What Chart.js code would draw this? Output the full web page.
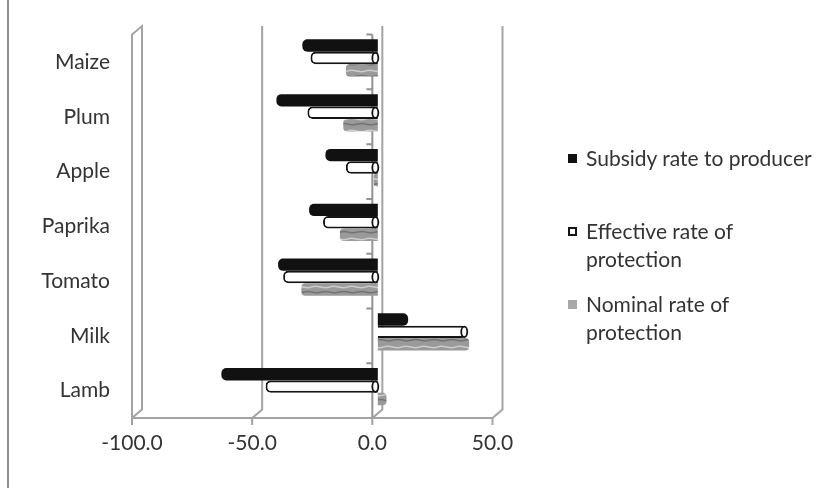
<!DOCTYPE html>
<html>
<head>
<meta charset="utf-8">
<script src="https://cdn.jsdelivr.net/npm/chart.js@4.4.0/dist/chart.umd.min.js"></script>
<style>
  html, body { margin: 0; padding: 0; background: #fff; }
  #wrap { position: relative; width: 833px; height: 488px; }
  .item { position: absolute; left: 568px; width: 262px; font: 21px Lato, sans-serif; color: #333; line-height: 28px; }
  .box { position: absolute; left: 0; top: 9.5px; width: 9px; height: 9px; box-sizing: border-box; }
  .txt { position: absolute; left: 18px; top: 0; width: 240px; }
</style>
</head>
<body>
<div id="wrap">
  <canvas id="chart" width="833" height="488"></canvas>
  <div id="legend"></div>
</div>
<script>
const categories = ['Maize', 'Plum', 'Apple', 'Paprika', 'Tomato', 'Milk', 'Lamb'];
const seriesNames = ['Subsidy rate to producer', 'Effective rate of protection', 'Nominal rate of protection'];
const subsidy = [-31.4, -42.2, -21.8, -28.6, -41.5, 12.6, -65.1];
const effective = [-28.0, -29.3, -13.3, -22.8, -39.4, 37.0, -46.7];
const nominal = [-13.3, -14.4, -1.7, -15.8, -31.8, 38.0, 3.6];
const xTicks = [-100, -50, 0, 50];

const xMin = xTicks[0];
const xMax = xTicks[xTicks.length - 1];

// marbled grey fill for the nominal series
function grayPattern(ctx) {
    const p = document.createElement('canvas');
    p.width = 18; p.height = 12;
    const g = p.getContext('2d');
    g.fillStyle = '#9a9a9a';
    g.fillRect(0, 0, 18, 12);
    g.lineWidth = 1.5;
    g.strokeStyle = '#cdcdcd';
    g.beginPath(); g.moveTo(0, 3); g.bezierCurveTo(6, 0, 12, 6, 18, 3); g.stroke();
    g.strokeStyle = '#737373';
    g.beginPath(); g.moveTo(0, 8); g.bezierCurveTo(6, 11, 11, 6, 18, 8); g.stroke();
    return ctx.createPattern(p, 'repeat');
}

const frame = {
    id: 'frame',
    beforeDraw(chart) {
        const ctx = chart.ctx;
        ctx.save();
        ctx.strokeStyle = '#8f8f8f';
        ctx.lineWidth = 2;
        ctx.beginPath(); ctx.moveTo(8, 0); ctx.lineTo(8, 488); ctx.stroke();
        ctx.restore();
    },
    beforeDatasetsDraw(chart) {
        const { ctx, chartArea: a, scales: { x } } = chart;
        const dx = 10, dy = -8.5;
        ctx.save();
        ctx.strokeStyle = '#a3a3a3';
        ctx.lineWidth = 2;
        const xl = x.getPixelForValue(xMin);
        // left wall
        ctx.beginPath();
        ctx.moveTo(xl, a.bottom); ctx.lineTo(xl, a.top);
        ctx.lineTo(xl + dx, a.top + dy); ctx.lineTo(xl + dx, a.bottom + dy);
        ctx.lineTo(xl, a.bottom);
        ctx.stroke();
        // back gridlines
        xTicks.forEach(v => {
            if (v === xMin) return;
            const px = x.getPixelForValue(v);
            ctx.beginPath();
            ctx.moveTo(px + dx, a.top + dy); ctx.lineTo(px + dx, a.bottom + dy); ctx.lineTo(px, a.bottom);
            ctx.stroke();
        });
        // floor front edge and ticks
        ctx.beginPath();
        ctx.moveTo(xl, a.bottom); ctx.lineTo(x.getPixelForValue(xMax), a.bottom);
        xTicks.forEach(v => {
            const px = x.getPixelForValue(v);
            ctx.moveTo(px, a.bottom); ctx.lineTo(px, a.bottom + 7);
        });
        ctx.stroke();
        // category axis crossing at zero
        const x0 = x.getPixelForValue(0);
        ctx.strokeStyle = '#939393';
        ctx.beginPath();
        ctx.moveTo(x0, a.top); ctx.lineTo(x0, a.bottom);
        for (let i = 0; i < categories.length; i++) {
            const py = a.top + (a.bottom - a.top) * i / categories.length;
            ctx.moveTo(x0 - 6, py); ctx.lineTo(x0, py);
        }
        ctx.stroke();
        ctx.restore();
        // bars sit half way into the depth
        ctx.save();
        ctx.translate(5.5, -4);
    },
    afterDatasetsDraw(chart) {
        const ctx = chart.ctx;
        // cylinder faces on the white bars
        chart.getDatasetMeta(1).data.forEach(bar => {
            const xr = Math.max(bar.x, bar.base);
            ctx.beginPath();
            ctx.ellipse(xr - 2.5, bar.y, 3, bar.height / 2 - 1, 0, 0, 2 * Math.PI);
            ctx.fillStyle = '#fff';
            ctx.fill();
            ctx.strokeStyle = '#111';
            ctx.lineWidth = 1.8;
            ctx.stroke();
        });
        ctx.restore();
    }
};

const ctx = document.getElementById('chart').getContext('2d');

new Chart(ctx, {
    type: 'bar',
    data: {
        labels: categories,
        datasets: [
            { label: seriesNames[0], data: subsidy, backgroundColor: '#111111', borderRadius: 5 },
            { label: seriesNames[1], data: effective, backgroundColor: '#ffffff', borderColor: '#151515', borderWidth: 2, borderRadius: 5 },
            { label: seriesNames[2], data: nominal, backgroundColor: grayPattern(ctx), borderRadius: 4 }
        ]
    },
    options: {
        indexAxis: 'y',
        responsive: false,
        animation: false,
        layout: { padding: { top: 32, right: 340.5, bottom: 0, left: 0 } },
        datasets: { bar: { categoryPercentage: 0.68, barPercentage: 1.0 } },
        scales: {
            x: {
                min: xMin,
                max: xMax,
                afterBuildTicks: s => { s.ticks = xTicks.map(v => ({ value: v })); },
                afterFit: s => { s.height = 70; },
                grid: { display: false, drawTicks: false },
                border: { display: false },
                ticks: {
                    padding: 13,
                    color: '#333',
                    font: { family: 'Lato', size: 21 },
                    callback: v => Number(v).toFixed(1)
                }
            },
            y: {
                afterFit: s => { s.width = 132; },
                grid: { display: false, drawTicks: false },
                border: { display: false },
                ticks: {
                    padding: 22,
                    color: '#333',
                    font: { family: 'Lato', size: 21 }
                }
            }
        },
        plugins: {
            legend: { display: false },
            tooltip: { enabled: false }
        }
    },
    plugins: [frame]
});

// legend
const legend = document.getElementById('legend');
const legendTops = [144, 217, 290];
const boxStyles = [
    'background:#111;',
    'background:#fff;border:2px solid #151515;',
    'background:#a8a8a8;'
];
seriesNames.forEach((name, i) => {
    const item = document.createElement('div');
    item.className = 'item';
    item.style.top = legendTops[i] + 'px';
    item.innerHTML = '<div class="box" style="' + boxStyles[i] + '"></div><div class="txt"></div>';
    item.querySelector('.txt').textContent = name;
    legend.appendChild(item);
});
</script>
</body>
</html>
